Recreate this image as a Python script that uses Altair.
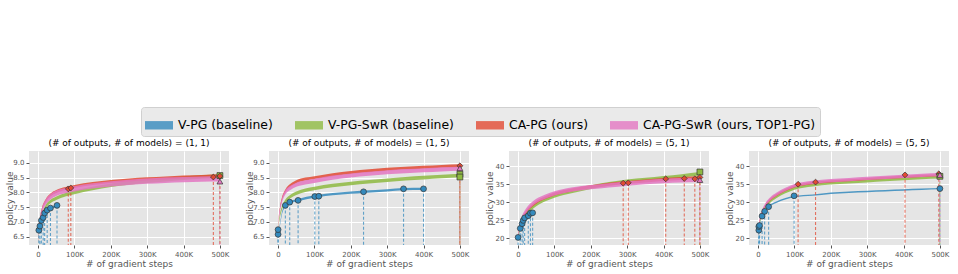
import altair as alt
import pandas as pd

SERIES = ["V-PG (baseline)", "V-PG-SwR (baseline)", "CA-PG (ours)", "CA-PG-SwR (ours, TOP1-PG)"]
COLORS = ["#348ABD", "#8EBA42", "#E24A33", "#E377C2"]
SHAPES = ["circle", "square", "diamond", "triangle-up"]

# gradient steps, in thousands
STEPS = [0, 2, 5, 10, 20, 35, 50, 75, 100, 150, 200, 250, 300, 350, 400, 450, 500]
X_TICKS = [0, 100, 200, 300, 400, 500]

# ---- (# of outputs, # of models) = (1, 1)
P11_VPG_STEPS = [0, 2, 5, 9, 14, 18, 25, 34, 45, 52]
P11_VPG = [6.40, 6.72, 6.86, 7.05, 7.15, 7.30, 7.40, 7.47, 7.52, 7.56]
P11_SWR = [6.25, 6.60, 6.90, 7.20, 7.50, 7.70, 7.80, 7.92, 8.00, 8.13, 8.24, 8.32, 8.38, 8.43, 8.48, 8.52, 8.55]
P11_CAPG = [6.35, 6.80, 7.10, 7.40, 7.70, 7.92, 8.03, 8.13, 8.20, 8.30, 8.37, 8.42, 8.46, 8.49, 8.52, 8.54, 8.56]
P11_TOP1 = [6.30, 6.75, 7.05, 7.35, 7.65, 7.86, 7.97, 8.06, 8.12, 8.22, 8.29, 8.34, 8.38, 8.41, 8.43, 8.45, 8.46]
P11_SPREAD = [0.04, 0.06, 0.05, 0.09]
P11_MARK_STEPS = [2, 5, 9, 14, 18, 25, 34, 52, 83, 90, 482, 500, 500, 500]
P11_MARK_VALUES = [6.72, 6.86, 7.05, 7.15, 7.30, 7.40, 7.47, 7.56, 8.12, 8.15, 8.52, 8.57, 8.55, 8.37]
P11_MARK_SERIES = [0, 0, 0, 0, 0, 0, 0, 0, 2, 2, 2, 1, 2, 3]

# ---- (1, 5)
P15_VPG_STEPS = [0, 5, 10, 20, 32, 55, 101, 112, 150, 200, 235, 300, 345, 400]
P15_VPG = [6.55, 6.90, 7.25, 7.55, 7.66, 7.74, 7.86, 7.88, 7.94, 7.99, 8.02, 8.07, 8.11, 8.12]
P15_SWR = [6.60, 6.95, 7.20, 7.45, 7.70, 7.87, 7.97, 8.07, 8.13, 8.23, 8.30, 8.36, 8.41, 8.46, 8.50, 8.54, 8.57]
P15_CAPG = [6.70, 7.15, 7.45, 7.75, 8.05, 8.25, 8.36, 8.45, 8.50, 8.60, 8.67, 8.73, 8.78, 8.82, 8.85, 8.88, 8.90]
P15_TOP1 = [6.65, 7.10, 7.40, 7.70, 8.00, 8.16, 8.26, 8.34, 8.39, 8.50, 8.57, 8.63, 8.68, 8.72, 8.75, 8.78, 8.80]
P15_SPREAD = [0.04, 0.06, 0.05, 0.07]
P15_MARK_STEPS = [0, 0, 20, 32, 55, 101, 112, 235, 345, 400, 500, 500, 500, 500]
P15_MARK_VALUES = [6.58, 6.74, 7.56, 7.67, 7.73, 7.86, 7.87, 8.02, 8.12, 8.12, 8.62, 8.52, 8.90, 8.82]
P15_MARK_SERIES = [0, 0, 0, 0, 0, 0, 0, 0, 0, 0, 1, 1, 2, 3]

# ---- (5, 1)
P51_VPG_STEPS = [0, 6, 11, 14, 18, 28, 34, 40]
P51_VPG = [20.3, 22.8, 24.1, 25.0, 25.7, 26.3, 27.0, 27.1]
P51_SWR = [19.5, 21.3, 22.8, 24.5, 26.4, 28.2, 29.4, 30.8, 31.8, 33.1, 34.2, 35.1, 35.8, 36.3, 36.8, 37.3, 37.9]
P51_CAPG = [19.8, 21.8, 23.3, 25.0, 27.0, 28.8, 30.0, 31.3, 32.3, 33.5, 34.3, 35.0, 35.5, 35.9, 36.3, 36.6, 36.9]
P51_TOP1 = [20.0, 22.0, 23.6, 25.4, 27.4, 29.2, 30.4, 31.6, 32.5, 33.6, 34.2, 34.7, 35.2, 35.6, 35.9, 36.1, 36.2]
P51_SPREAD = [0.4, 0.5, 0.4, 0.6]
P51_MARK_STEPS = [0, 6, 11, 14, 18, 28, 34, 40, 289, 303, 406, 457, 486, 500, 500, 500]
P51_MARK_VALUES = [20.3, 22.8, 24.1, 25.0, 25.7, 26.3, 27.0, 27.1, 35.3, 35.4, 36.5, 36.6, 36.5, 38.4, 36.9, 36.2]
P51_MARK_SERIES = [0, 0, 0, 0, 0, 0, 0, 0, 2, 2, 2, 2, 2, 1, 2, 3]

# ---- (5, 5)
P55_VPG_STEPS = [0, 2, 4, 11, 18, 29, 50, 75, 99, 150, 200, 250, 300, 350, 400, 450, 500]
P55_VPG = [21.0, 22.2, 23.6, 26.2, 27.5, 28.8, 30.0, 31.0, 31.6, 32.0, 32.5, 32.8, 33.0, 33.2, 33.4, 33.6, 33.8]
P55_SWR = [20.8, 23.0, 24.7, 26.5, 28.6, 30.4, 31.5, 32.9, 33.9, 34.8, 35.3, 35.6, 35.9, 36.2, 36.5, 36.8, 37.0]
P55_CAPG = [20.9, 23.3, 25.1, 26.9, 29.1, 30.9, 32.0, 33.4, 34.4, 35.3, 35.8, 36.1, 36.45, 36.75, 37.05, 37.3, 37.5]
P55_TOP1 = [21.0, 23.5, 25.3, 27.1, 29.3, 31.1, 32.2, 33.6, 34.6, 35.5, 36.0, 36.3, 36.6, 36.9, 37.2, 37.45, 37.65]
P55_SPREAD = [0.2, 0.4, 0.3, 0.45]
P55_MARK_STEPS = [2, 2, 4, 11, 18, 29, 99, 500, 110, 158, 404, 497, 500, 500]
P55_MARK_VALUES = [22.3, 23.3, 23.6, 26.2, 27.5, 28.8, 31.8, 33.8, 35.0, 35.6, 37.6, 37.9, 37.2, 37.6]
P55_MARK_SERIES = [0, 0, 0, 0, 0, 0, 0, 0, 2, 2, 2, 2, 1, 3]

SMALL_Y = dict(domain=[6.22, 9.4], ticks=[6.5, 7.0, 7.5, 8.0, 8.5, 9.0], fmt=".1f")
LARGE_Y = dict(domain=[18.2, 44.2], ticks=[20, 25, 30, 35, 40], fmt="d")

PANELS = [
    ("(1, 1)", SMALL_Y, P11_VPG_STEPS, P11_VPG, P11_SWR, P11_CAPG, P11_TOP1, P11_SPREAD,
     P11_MARK_STEPS, P11_MARK_VALUES, P11_MARK_SERIES),
    ("(1, 5)", SMALL_Y, P15_VPG_STEPS, P15_VPG, P15_SWR, P15_CAPG, P15_TOP1, P15_SPREAD,
     P15_MARK_STEPS, P15_MARK_VALUES, P15_MARK_SERIES),
    ("(5, 1)", LARGE_Y, P51_VPG_STEPS, P51_VPG, P51_SWR, P51_CAPG, P51_TOP1, P51_SPREAD,
     P51_MARK_STEPS, P51_MARK_VALUES, P51_MARK_SERIES),
    ("(5, 5)", LARGE_Y, P55_VPG_STEPS, P55_VPG, P55_SWR, P55_CAPG, P55_TOP1, P55_SPREAD,
     P55_MARK_STEPS, P55_MARK_VALUES, P55_MARK_SERIES),
]

FONT = "DejaVu Sans"

color_enc = alt.Color(
    "series:N",
    scale=alt.Scale(domain=SERIES, range=COLORS),
    legend=alt.Legend(
        title=None,
        orient="none",
        legendX=112,
        legendY=-44,
        direction="horizontal",
        symbolType="M-1,-0.3L1,-0.3L1,0.3L-1,0.3Z",
        symbolSize=784,
        symbolStrokeWidth=0,
        symbolOpacity=0.8,
        labelFont=FONT,
        labelFontSize=12.4,
        labelColor="#000000",
        labelOffset=5,
        labelLimit=400,
        columnPadding=22,
        padding=4,
        fillColor="#EAEAEA",
        strokeColor="#D0D0D0",
        cornerRadius=3,
    ),
)


def make_panel(title, ycfg, vpg_steps, vpg, swr, capg, top1, spread, m_steps, m_vals, m_series):
    ydom = ycfg["domain"]
    x_enc = alt.X(
        "step:Q",
        scale=alt.Scale(domain=[-25, 525], nice=False, zero=False),
        axis=alt.Axis(
            values=X_TICKS,
            labelExpr="datum.value == 0 ? '0' : datum.value + 'K'",
            title="# of gradient steps",
        ),
    )
    y_scale = alt.Scale(domain=ydom, nice=False, zero=False)
    y_axis = alt.Axis(values=ycfg["ticks"], format=ycfg["fmt"], title="policy value", titleX=-15)

    curves = [
        (SERIES[0], vpg_steps, vpg, spread[0]),
        (SERIES[1], STEPS, swr, spread[1]),
        (SERIES[2], STEPS, capg, spread[2]),
        (SERIES[3], STEPS, top1, spread[3]),
    ]
    layers = []
    for name, xs, ys, sd in curves:
        df = pd.DataFrame({
            "step": xs,
            "lo": [v - sd for v in ys],
            "hi": [v + sd for v in ys],
            "series": name,
        })
        layers.append(
            alt.Chart(df)
            .mark_area(interpolate="monotone", opacity=0.85, clip=True)
            .encode(
                x=x_enc,
                y=alt.Y("lo:Q", scale=y_scale, axis=y_axis),
                y2="hi:Q",
                color=color_enc,
            )
        )

    marks = pd.DataFrame({
        "step": m_steps,
        "value": m_vals,
        "series": [SERIES[k] for k in m_series],
        "marker": [SHAPES[k] for k in m_series],
    })
    rules = (
        alt.Chart(marks)
        .mark_rule(strokeDash=[3, 2], strokeWidth=1.1, opacity=0.75)
        .encode(
            x=x_enc,
            y=alt.Y("value:Q", scale=y_scale, axis=y_axis),
            y2=alt.datum(ydom[0]),
            color=color_enc,
        )
    )
    points = (
        alt.Chart(marks)
        .mark_point(filled=True, size=34, stroke="#333333", strokeWidth=0.7, opacity=1)
        .encode(
            x=x_enc,
            y=alt.Y("value:Q", scale=y_scale, axis=y_axis),
            color=color_enc,
            shape=alt.Shape("marker:N", scale=None, legend=None),
        )
    )
    return alt.layer(*layers, rules, points).properties(
        width=200,
        height=94,
        title=f"(# of outputs, # of models) = {title}",
    )


panels = [make_panel(*p) for p in PANELS]

chart = (
    alt.hconcat(*panels, spacing=16)
    .resolve_scale(x="independent", y="independent", color="shared")
    .properties(padding={"left": 5, "top": 106, "right": 5, "bottom": 4}, background="white")
    .configure_view(fill="#E5E5E5", strokeWidth=0)
    .configure_axis(
        grid=True,
        gridColor="#FFFFFF",
        gridWidth=1,
        domain=False,
        tickColor="#555555",
        tickSize=3,
        labelFont=FONT,
        labelFontSize=7,
        labelColor="#555555",
        labelPadding=2,
        titleFont=FONT,
        titleFontSize=9,
        titleFontWeight="normal",
        titleColor="#555555",
        titlePadding=2,
    )
    .configure_title(font=FONT, fontSize=9, fontWeight="normal", color="#000000", offset=3)
)

chart.save("out.html", embed_options={"renderer": "svg", "actions": False})
